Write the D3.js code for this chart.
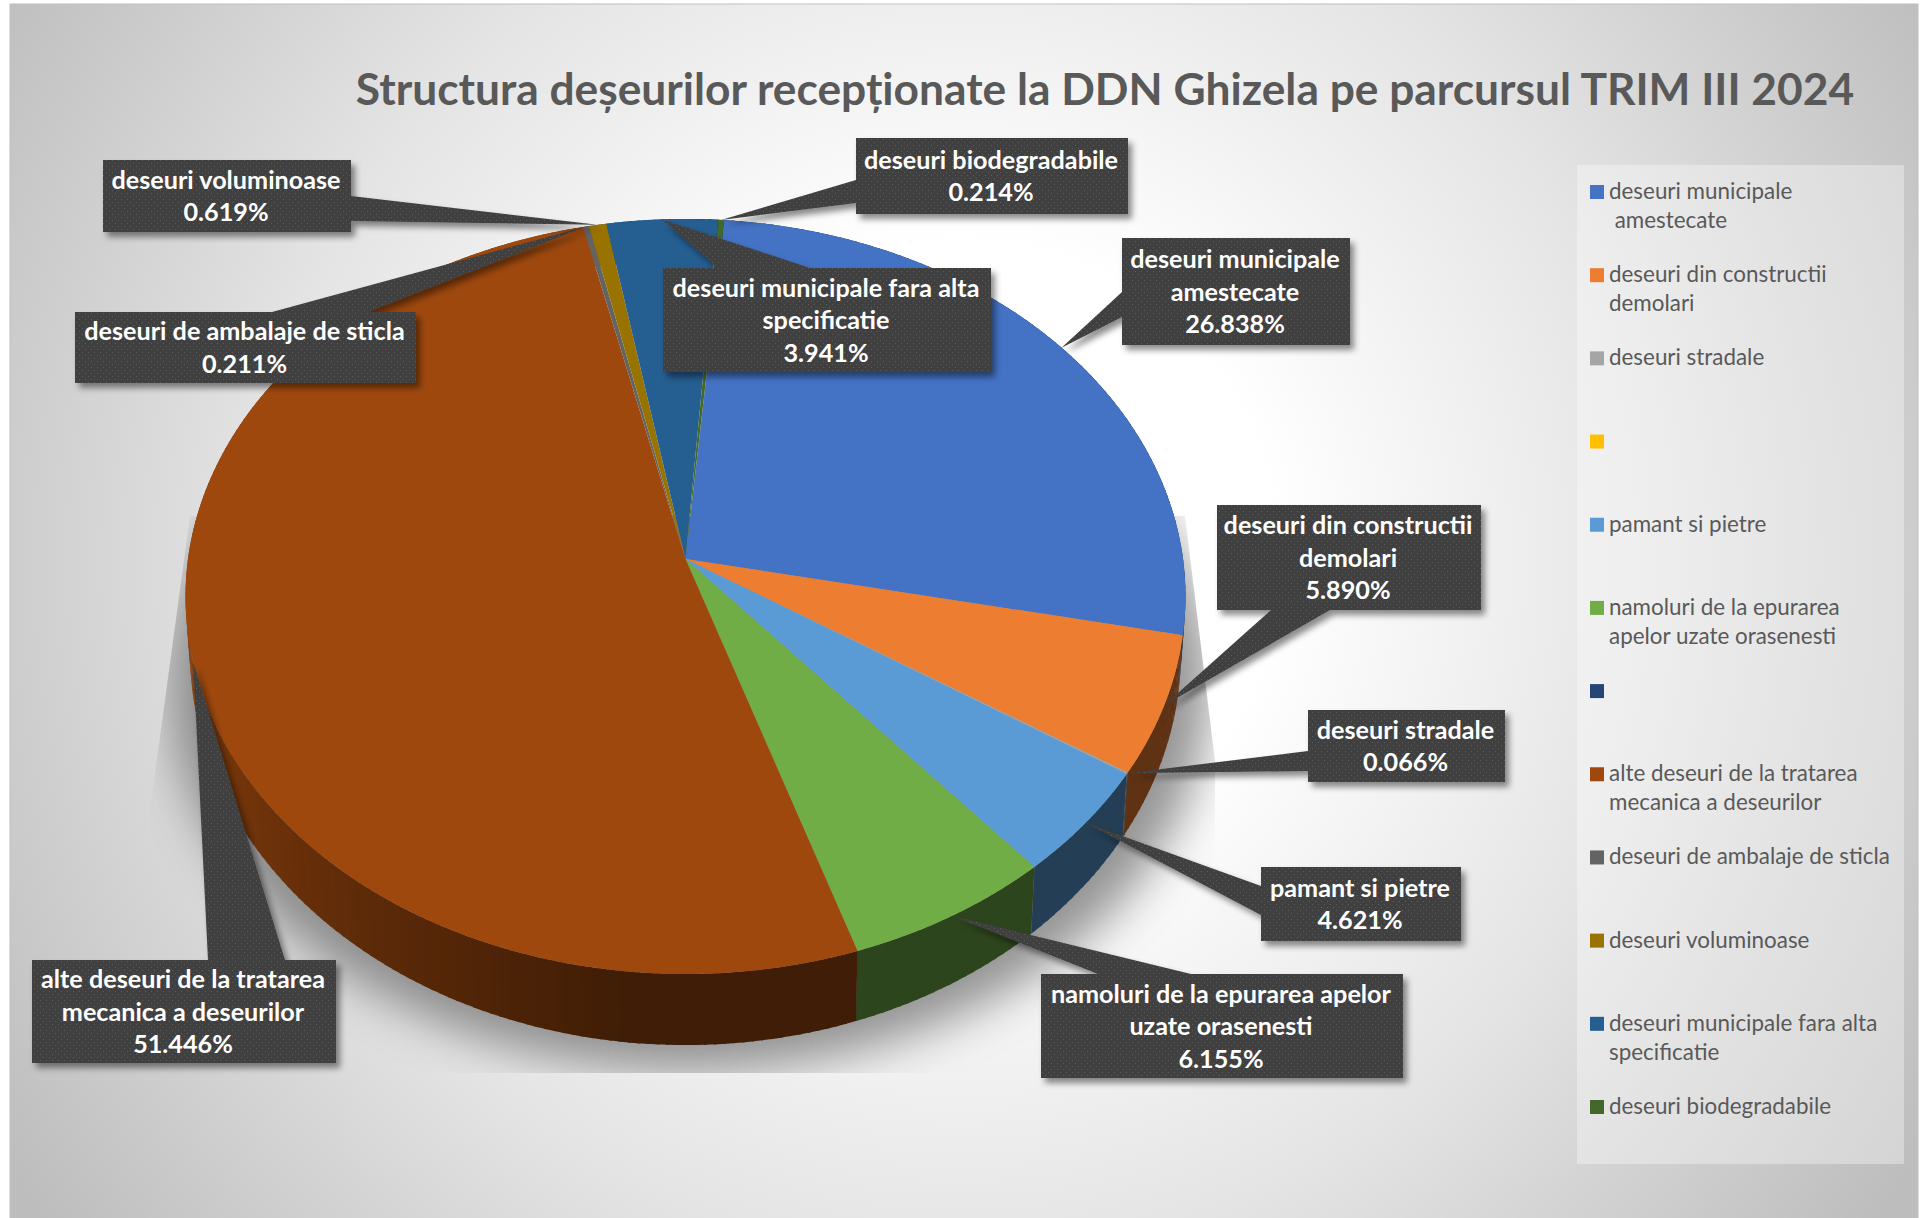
<!DOCTYPE html>
<html><head><meta charset="utf-8">
<script src="https://cdn.jsdelivr.net/npm/d3@7/dist/d3.min.js"></script>
<style>html,body{margin:0;padding:0;background:#fff;overflow:hidden}svg{display:block}</style>
</head><body><svg id="c" width="1925" height="1218"></svg>
<script>
const chartTitle = "Structura deșeurilor recepționate la DDN Ghizela pe parcursul TRIM III 2024";
const categories = ["deseuri municipale amestecate","deseuri din constructii demolari","deseuri stradale","","pamant si pietre","namoluri de la epurarea apelor uzate orasenesti","","alte deseuri de la tratarea mecanica a deseurilor","deseuri de ambalaje de sticla","deseuri voluminoase","deseuri municipale fara alta specificatie","deseuri biodegradabile"];
const values = [26.838,5.890,0.066,0,4.621,6.155,0,51.446,0.211,0.619,3.941,0.214];
const sliceColors = ["#4472c4","#ed7d31","#a5a5a5","#ffc000","#5b9bd5","#70ad47","#264478","#9e480e","#636363","#997300","#255e91","#43682b"];
const legendLines = [["deseuri municipale"," amestecate"],["deseuri din constructii","demolari"],["deseuri stradale"],[""],["pamant si pietre"],["namoluri de la epurarea","apelor uzate orasenesti"],[""],["alte deseuri de la tratarea","mecanica a deseurilor"],["deseuri de ambalaje de sticla"],["deseuri voluminoase"],["deseuri municipale fara alta","specificatie"],["deseuri biodegradabile"]];
const labelLines = [["deseuri municipale","amestecate"],["deseuri din constructii","demolari"],["deseuri stradale"],null,["pamant si pietre"],["namoluri de la epurarea apelor","uzate orasenesti"],null,["alte deseuri de la tratarea","mecanica a deseurilor"],["deseuri de ambalaje de sticla"],["deseuri voluminoase"],["deseuri municipale fara alta","specificatie"],["deseuri biodegradabile"]];
// callout box layout [x0,y0,x1,y1], tail base [side, a, b]
const calloutBox = [[1122,238,1350,345],[1217,505,1481,610],[1308,710,1505,782],null,[1261,867,1461,941],[1041,974,1403,1078],null,[32,960,336,1063],[75,312,416,383],[103,160,351,232],[663,268,991,372],[856,138,1128,214]];
const calloutBase = [["l",292,317],["b",1271,1330],["l",751,771],null,["l",886,915],["t",1098,1191],null,["t",208,285],["t",272,368],["r",196,221],["t",718,810],["l",180,203]];

const W=1925,H=1218;
const svg=d3.select("#c");
const defs=svg.append("defs");
const bg=defs.append("radialGradient").attr("id","bg").attr("gradientUnits","userSpaceOnUse").attr("cx",960).attr("cy",560).attr("r",1130);
[[0,"#ffffff"],[0.28,"#ffffff"],[0.62,"#e4e4e4"],[1,"#bdbdbd"]].forEach(s=>bg.append("stop").attr("offset",s[0]).attr("stop-color",s[1]));
const pat=defs.append("pattern").attr("id","dots").attr("patternUnits","userSpaceOnUse").attr("width",6).attr("height",6);
pat.append("rect").attr("width",6).attr("height",6).attr("fill","#404040");
pat.append("rect").attr("x",1).attr("y",1).attr("width",1).attr("height",1).attr("fill","#5c5c5c");
pat.append("rect").attr("x",4).attr("y",4).attr("width",1).attr("height",1).attr("fill","#5c5c5c");
const fs=defs.append("filter").attr("id","boxShadow").attr("x","-30%").attr("y","-30%").attr("width","170%").attr("height","170%");
fs.append("feDropShadow").attr("dx",4).attr("dy",5).attr("stdDeviation",3).attr("flood-color","#000").attr("flood-opacity",.45);
const fb=defs.append("filter").attr("id","blur").attr("x","-20%").attr("y","-20%").attr("width","140%").attr("height","140%");
fb.append("feGaussianBlur").attr("stdDeviation",24);
defs.append("clipPath").attr("id","shClip").append("path").attr("d","M190,516L150,810L150,1073L1215,1073L1215,761L1185,516Z");

svg.append("rect").attr("x",10).attr("y",4).attr("width",1908).attr("height",1216).attr("fill","url(#bg)").attr("stroke","#bfbfbf").attr("stroke-width",1);

// pie geometry (perspective projection of a disc)
const cx=685.5,topRim={cy:559,a:497.5,b:373.8},botRim={cy:613.5,a:493,b:388.7},persp=0.0993;
const project=(t,rim,r=1)=>{const u=r*Math.sin(t),v=-r*Math.cos(t),d=1-persp*v;return [cx+u*rim.a/d,rim.cy+v*rim.b/d];};
const startDeg=4.9;
const arcs=d3.pie().sort(null).value(d=>d).startAngle(startDeg*Math.PI/180).endAngle(startDeg*Math.PI/180+2*Math.PI)(values);
const line=d3.line();

// shadow
svg.append("g").attr("clip-path","url(#shClip)").append("ellipse").attr("cx",690).attr("cy",685).attr("rx",520).attr("ry",385).attr("fill","#6a6a6a").attr("opacity",.72).attr("filter","url(#blur)");

// sides
const shade=deg=>{deg=((deg%360)+360)%360; return deg<=185?0.40:Math.min(0.85,0.40+(deg-185)*0.0062);};
const sides=svg.append("g");
arcs.forEach((a,i)=>{
  if(a.value===0) return;
  const step=Math.PI/180;
  for(let t=a.startAngle;t<a.endAngle;t+=step){
    const e=Math.min(t+step*1.3,a.endAngle);
    const c=d3.rgb(sliceColors[i]),f=shade(t*180/Math.PI);
    sides.append("path").attr("d",line([project(t,topRim),project(e,topRim),project(e,botRim),project(t,botRim)])+"Z")
      .attr("fill",d3.rgb(c.r*f,c.g*f,c.b*f).formatHex());
  }
});
// top face
const topFace=svg.append("g");
arcs.forEach((a,i)=>{
  if(a.value===0) return;
  const n=Math.max(2,Math.ceil((a.endAngle-a.startAngle)/0.01));
  const pts=[[cx,topRim.cy]].concat(d3.range(n+1).map(k=>project(a.startAngle+(a.endAngle-a.startAngle)*k/n,topRim)));
  topFace.append("path").attr("d",line(pts)+"Z").attr("fill",sliceColors[i]);
});

// title
svg.append("text").attr("x",1105).attr("y",105).attr("text-anchor","middle").style("font","700 44.3px Lato").attr("fill","#595959").text(chartTitle);

// legend
const legendG=svg.append("g");
legendG.append("rect").attr("x",1577).attr("y",165).attr("width",327).attr("height",999).attr("fill","#ffffff").attr("opacity",.35);
const ly=d3.scaleLinear().domain([0,values.length-1]).range([192,1107]);
categories.forEach((c,i)=>{
  const y=ly(i);
  legendG.append("rect").attr("x",1590).attr("y",y-7).attr("width",14).attr("height",14).attr("fill",sliceColors[i]);
  legendLines[i].forEach((t,j)=>{
    if(!t) return;
    legendG.append("text").attr("x",1609).attr("y",y+7+j*29).attr("xml:space","preserve").style("white-space","pre").style("font","400 22.4px Lato").attr("fill","#595959").text(t);
  });
});

// callouts
const call=svg.append("g");
const fmt=d3.format(".3f");
arcs.forEach((a,i)=>{
  if(!labelLines[i]) return;
  const [x0,y0,x1,y1]=calloutBox[i],[s,p,q]=calloutBase[i];
  const mid=(a.startAngle+a.endAngle)/2,tip=project(mid,topRim,1.0);
  let pts;
  if(s==="l") pts=[[x0,y0],[x1,y0],[x1,y1],[x0,y1],[x0,q],tip,[x0,p]];
  if(s==="r") pts=[[x0,y0],[x1,y0],[x1,p],tip,[x1,q],[x1,y1],[x0,y1]];
  if(s==="t") pts=[[x0,y0],[p,y0],tip,[q,y0],[x1,y0],[x1,y1],[x0,y1]];
  if(s==="b") pts=[[x0,y0],[x1,y0],[x1,y1],[q,y1],tip,[p,y1],[x0,y1]];
  call.append("path").attr("d",line(pts)+"Z").attr("fill","url(#dots)").attr("filter","url(#boxShadow)");
  const lines=labelLines[i].concat([fmt(a.value)+"%"]);
  const lh=32.5,xc=(x0+x1)/2-1,yc=(y0+y1)/2;
  lines.forEach((t,j)=>{
    call.append("text").attr("x",xc).attr("y",yc+(j-(lines.length-1)/2)*lh+9).attr("text-anchor","middle").style("font","700 25.2px Lato").attr("fill","#fff").text(t);
  });
});
</script></body></html>
